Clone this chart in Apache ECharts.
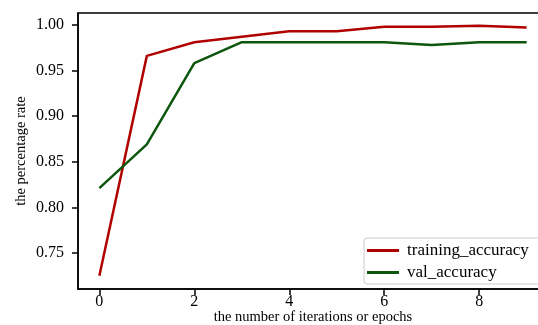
<!DOCTYPE html>
<html>
<head>
<meta charset="utf-8">
<script src="https://cdn.jsdelivr.net/npm/echarts@6/dist/echarts.min.js"></script>
<style>
  html, body { margin: 0; padding: 0; background: #fff; }
  #chart { width: 538px; height: 325px; }
</style>
</head>
<body>
<div id="chart"></div>
<script>
// epochs 0..9
const epochs = [0, 1, 2, 3, 4, 5, 6, 7, 8, 9];
const trainingAccuracy = [0.725, 0.966, 0.981, 0.987, 0.993, 0.993, 0.998, 0.998, 0.999, 0.997];
const valAccuracy = [0.821, 0.869, 0.958, 0.981, 0.981, 0.981, 0.981, 0.978, 0.981, 0.981];
const xTicks = [0, 2, 4, 6, 8];
const yTicks = [0.75, 0.80, 0.85, 0.90, 0.95, 1.00];

const font = 'Liberation Serif';
const chart = echarts.init(document.getElementById('chart'));

const option = {
  animation: false,
  textStyle: { fontFamily: font },
  grid: {
    left: 78,
    right: -10,
    top: 13,
    bottom: 36,
    outerBoundsMode: 'none',
    containLabel: false,
    show: true,
    borderColor: '#000',
    borderWidth: 1.5
  },
  legend: {
    orient: 'vertical',
    left: 364,
    top: 238,
    itemWidth: 32,
    itemHeight: 3,
    itemGap: 5,
    padding: [4, 40, 3, 3],
    borderColor: '#ccc',
    borderWidth: 1,
    borderRadius: 3,
    backgroundColor: '#fff',
    icon: 'rect',
    textStyle: { fontFamily: font, fontSize: 17, color: '#000', padding: [0, 0, 0, 3] },
    data: ['training_accuracy', 'val_accuracy']
  },
  xAxis: {
    type: 'value',
    min: -0.45,
    max: 9.45,
    name: 'the number of iterations or epochs',
    nameLocation: 'middle',
    nameGap: 21,
    nameMoveOverlap: false,
    nameTextStyle: { fontFamily: font, fontSize: 14.5, color: '#000' },
    axisLine: { onZero: false, lineStyle: { color: '#000', width: 1.5 } },
    axisTick: { show: true, customValues: xTicks, length: 6, inside: false, lineStyle: { color: '#000', width: 1.5 } },
    axisLabel: { customValues: xTicks, fontFamily: font, fontSize: 16, color: '#000', margin: 5 },
    splitLine: { show: false }
  },
  yAxis: {
    type: 'value',
    min: 0.7105,
    max: 1.013,
    name: 'the percentage rate',
    nameLocation: 'middle',
    nameGap: 49,
    nameMoveOverlap: false,
    nameTextStyle: { fontFamily: font, fontSize: 14.5, color: '#000' },
    axisLine: { show: true, onZero: false, lineStyle: { color: '#000', width: 1.5 } },
    axisTick: { show: true, customValues: yTicks, length: 6, inside: false, lineStyle: { color: '#000', width: 1.5 } },
    axisLabel: {
      customValues: yTicks,
      fontFamily: font,
      fontSize: 16,
      color: '#000',
      margin: 14,
      formatter: v => v.toFixed(2)
    },
    splitLine: { show: false }
  },
  series: [
    {
      name: 'training_accuracy',
      type: 'line',
      data: epochs.map((e, i) => [e, trainingAccuracy[i]]),
      symbol: 'none',
      color: '#b00000',
      lineStyle: { color: '#b00000', width: 2.5 }
    },
    {
      name: 'val_accuracy',
      type: 'line',
      data: epochs.map((e, i) => [e, valAccuracy[i]]),
      symbol: 'none',
      color: '#0d560d',
      lineStyle: { color: '#0d560d', width: 2.5 }
    }
  ]
};

chart.setOption(option);
</script>
</body>
</html>
